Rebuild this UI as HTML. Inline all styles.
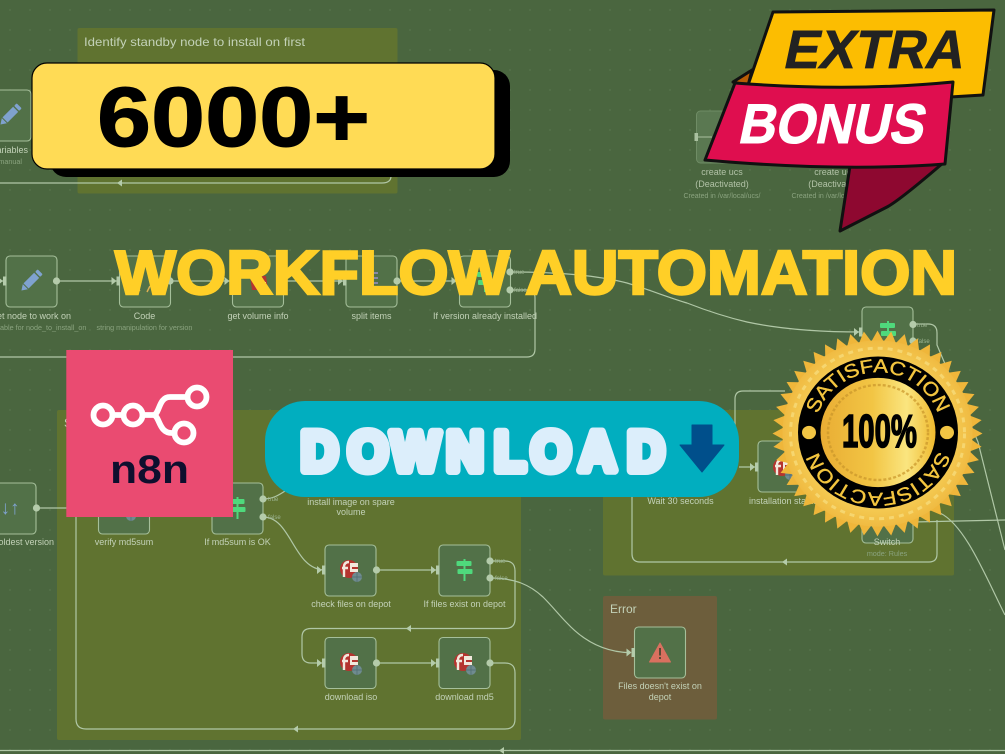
<!DOCTYPE html>
<html lang="en">
<head>
<meta charset="utf-8">
<title>6000+ Workflow Automation</title>
<style>
html,body{margin:0;padding:0;background:#4a663f;width:1005px;height:754px;overflow:hidden}
svg{position:absolute;left:0;top:0;display:block}
text{font-family:"Liberation Sans",sans-serif}
.l{font-size:9px;fill:#c3d2b8;text-anchor:middle}
.s{font-size:7.2px;fill:#8aa37f;text-anchor:middle}
.t{font-size:6px;fill:#9db592}
.c{fill:none;stroke:#b0c7a6;stroke-width:1.2}
.bg{filter:blur(.35px)}
</style>
</head>
<body>
<svg width="1005" height="754" viewBox="0 0 1005 754" xmlns="http://www.w3.org/2000/svg">
<defs>
<pattern id="dots" width="20" height="20" patternUnits="userSpaceOnUse"><circle cx="10" cy="10" r=".7" fill="#5d7952"/></pattern>
<rect id="nb" width="51" height="51" rx="4" fill="#527148" stroke="#a5bf9a" stroke-width="1.1"/>
<g id="in"><path d="M-8 -4 L-3 0 L-8 4Z" fill="#b4cbaa"/><rect x="-3" y="-4.5" width="3.5" height="9" fill="#b4cbaa"/></g>
<circle id="o" r="3.6" fill="#b4cbaa"/>
<path id="ar" d="M-4 0 L1 -3.5 V3.5Z" fill="#b4cbaa"/>
<g id="f5"><circle r="9" fill="#b5342f"/><path d="M-5 8 V-2 Q-5 -7 0 -7 M-7 -1 H-1" fill="none" stroke="#f2e8dc" stroke-width="2.4"/><path d="M1 -6 H9 V-2 H3 V0 H9 V3 H1Z" fill="#f2e8dc"/><circle cx="8" cy="8" r="5" fill="#6f8b90"/><path d="M3 8 H13 M8 3 V13" stroke="#4f6c70" stroke-width=".7"/></g>
<g id="sg" fill="#4fd97c"><rect x="-8" y="-9" width="15" height="5" rx="1"/><rect x="-7" y="-1" width="15" height="5" rx="1"/><rect x="-1" y="-11" width="2" height="22"/></g>
<g id="pen"><g transform="rotate(45)" fill="#7fa2cf"><rect x="-3.6" y="-8" width="7.2" height="15"/><path d="M-3.6 8 L0 13.5 L3.6 8Z"/><rect x="-3.6" y="-13" width="7.2" height="3.6" rx="1"/></g></g>
<polygon id="sp" points="105,0 0,58 -105,0 0,-58" fill="#efb63a"/>
<radialGradient id="gold" cx=".5" cy=".5" r=".55"><stop offset="0" stop-color="#f8d765"/><stop offset=".7" stop-color="#f5cd55"/><stop offset="1" stop-color="#eeb33a"/></radialGradient>
<linearGradient id="gold2" x1="0" y1="0" x2="1" y2="0"><stop offset="0" stop-color="#e9ad34"/><stop offset=".45" stop-color="#f2c544"/><stop offset=".75" stop-color="#fae57f"/><stop offset="1" stop-color="#efb92e"/></linearGradient>
<path id="arcT" d="M-60 -19.5 A63 63 0 0 1 60 -19.5"/>
<path id="arcB" d="M60 19.5 A63 63 0 0 1 -60 19.5"/>
</defs>

<g class="bg">
<rect width="1005" height="754" fill="#4a663f"/>
<rect width="1005" height="754" fill="url(#dots)"/>

<!-- groups -->
<rect x="77.5" y="28" width="320" height="165.5" rx="2" fill="#607330"/>
<rect x="57" y="410" width="464" height="330" rx="2" fill="#607330"/>
<rect x="603" y="410" width="351" height="165.5" rx="2" fill="#607330"/>
<rect x="603" y="596" width="114" height="123.5" rx="2" fill="#6d5e3c"/>
<text x="84" y="46" font-size="12" fill="#c3d2b8" textLength="221" lengthAdjust="spacingAndGlyphs">Identify standby node to install on first</text>
<text x="64" y="427" font-size="12" fill="#c3d2b8">S</text>
<text x="610" y="613" font-size="12" fill="#c3d2b8">Error</text>

<!-- connectors -->
<g class="c">
<path d="M0 183 H382 Q391 183 391 176"/>
<path d="M0 281 H6 M56.5 281 H119 M170 281 H232 M283 281 H346 M397 281 H459"/>
<path d="M510 272 C560 272 600 276 627 283 C650 290 670 298 687 303 C710 312 730 318 747 322 C780 329 820 332 862 332"/>
<path d="M510 290 H527 Q535 290 535 298 V349 Q535 357 527 357 H0"/>
<path d="M913 324 H928 Q937 324 937 333 V345 L978 442 L1005 550"/>
<path d="M913 522 L1005 520"/>
<path d="M940 513 C965 525 985 575 1005 615"/>
<path d="M785 391 H743 Q735 391 735 399 V470"/>
<path d="M632 497 V554 Q632 562 640 562 H929 Q937 562 937 554 V520"/>
<path d="M739 467 H758"/>
<path d="M36.5 508 H70"/>
<path d="M76 517 V719 Q76 729 86 729 H505 Q515 729 515 719 V673 Q515 663 505 663 H490"/>
<path d="M376 570 H439 M376 663 H439"/>
<path d="M263 517 C292 517 293 570 325 570"/>
<path d="M263 499 C272 499 278 496 288 489"/>
<path d="M490 561 H505 Q515 561 515 571 V619 Q515 628.5 505 628.5 H311 Q302 628.5 302 637 V654 Q302 663 311 663 H325"/>
<path d="M490 578 C515 578 530 585 543 597 C552 606 560 616 567 623 C580 637 600 652 630 652.7"/>
<path d="M0 750.5 H1005"/>
</g>
<use href="#ar" x="121" y="183"/>
<use href="#ar" x="786" y="562"/>
<use href="#ar" x="297" y="729"/>
<use href="#ar" x="410" y="628.5"/>
<use href="#ar" x="503" y="750.5"/>

<!-- top-left node -->
<use href="#nb" x="-20" y="90"/>
<use href="#pen" x="10" y="115"/>
<text x="28" y="153" font-size="9" fill="#c3d2b8" text-anchor="end">ariables</text>
<text x="22" y="164" font-size="7.2" fill="#8aa37f" text-anchor="end">manual</text>

<!-- row 2 -->
<use href="#nb" x="6" y="256"/><use href="#pen" x="31" y="281"/><use href="#o" x="56.5" y="281"/><use href="#in" x="6" y="281"/>
<use href="#nb" x="119.5" y="256"/><use href="#o" x="170" y="281"/><use href="#in" x="119.5" y="281"/>
<path d="M137 288 L140 291 M150 286 L147 292" stroke="#e0b050" stroke-width="1.5"/>
<use href="#nb" x="232.5" y="256"/><use href="#o" x="283" y="281"/><use href="#in" x="232.5" y="281"/>
<path d="M250 276 L266 276 L268 290 L252 290Z" fill="#b5342f"/><rect x="256" y="282" width="10" height="6" fill="#d9d9d0"/>
<use href="#nb" x="346" y="256"/><use href="#o" x="397" y="281"/><use href="#in" x="346" y="281"/>
<path d="M366 273 H378 M366 278 H378 M366 283 H378 M366 288 H378" stroke="#9a8fc7" stroke-width="1.5"/>
<use href="#nb" x="459.5" y="256"/><use href="#in" x="459.5" y="281"/><use href="#o" x="510" y="272"/><use href="#o" x="510" y="290"/>
<use href="#sg" x="485" y="281"/>
<text class="t" x="514" y="274">true</text><text class="t" x="514" y="292">false</text>
<text class="l" x="31" y="319">Set node to work on</text>
<text class="s" x="31" y="330">Set variable for node_to_install_on</text>
<text class="l" x="144.5" y="319">Code</text>
<text class="s" x="144.5" y="330">string manipulation for version</text>
<text class="l" x="258" y="319">get volume info</text>
<text class="l" x="371.5" y="319">split items</text>
<text class="l" x="485" y="319">If version already installed</text>

<!-- deactivated nodes -->
<rect x="696.5" y="111" width="51" height="52" rx="4" fill="#5a7851" stroke="#6f8c65" stroke-width="1"/>
<rect x="805" y="111" width="51" height="52" rx="4" fill="#5a7851" stroke="#6f8c65" stroke-width="1"/>
<rect x="694.5" y="133" width="3.5" height="8" fill="#a9c09f"/>
<path d="M698 137 H712" stroke="#a9c09f" stroke-width="1"/>
<text class="l" x="722" y="175" opacity=".85">create ucs</text>
<text class="l" x="722" y="187" opacity=".85">(Deactivated)</text>
<text class="s" x="722" y="198" style="font-size:7px">Created in /var/local/ucs/</text>
<text class="l" x="835" y="175" opacity=".85">create ucs</text>
<text class="l" x="835" y="187" opacity=".85">(Deactivated)</text>
<text class="s" x="830" y="198" style="font-size:7px">Created in /var/local/ucs/</text>

<!-- right side -->
<use href="#nb" x="862" y="307"/><use href="#sg" x="888" y="332"/><use href="#in" x="862" y="332"/><use href="#o" x="913" y="324.5"/><use href="#o" x="913" y="341"/>
<text class="t" x="917" y="327">true</text><text class="t" x="917" y="343">false</text>
<use href="#nb" x="758" y="441"/><use href="#f5" x="782" y="467"/><use href="#in" x="758" y="467"/>
<use href="#nb" x="862" y="492"/>
<text class="l" x="680.5" y="504">Wait 30 seconds</text>
<text class="l" x="783.5" y="504">installation status</text>
<text class="l" x="887" y="545">Switch</text>
<text class="s" x="887" y="556">mode: Rules</text>

<!-- main group nodes -->
<use href="#nb" x="-15" y="483"/><use href="#o" x="36.5" y="508"/>
<text x="10" y="514" font-size="19" fill="#7fa2cf" text-anchor="middle">↓↑</text>
<text x="54" y="545" font-size="9" fill="#c3d2b8" text-anchor="end">oldest version</text>
<use href="#nb" x="98.5" y="483"/><use href="#f5" x="123" y="508"/>
<text class="l" x="124" y="545">verify md5sum</text>
<use href="#nb" x="212" y="483"/><use href="#sg" x="237.5" y="508"/><use href="#o" x="263" y="499"/><use href="#o" x="263" y="517"/>
<text class="t" x="268" y="501">true</text><text class="t" x="268" y="519">false</text>
<text class="l" x="237.5" y="545">If md5sum is OK</text>
<text class="l" x="351" y="505">install image on spare</text>
<text class="l" x="351" y="515">volume</text>

<use href="#nb" x="325" y="545"/><use href="#f5" x="349" y="569"/><use href="#in" x="325" y="570"/><use href="#o" x="376.5" y="570"/>
<text class="l" x="351" y="607">check files on depot</text>
<use href="#nb" x="439" y="545"/><use href="#sg" x="464.5" y="570"/><use href="#in" x="439" y="570"/><use href="#o" x="490" y="561"/><use href="#o" x="490" y="578"/>
<text class="t" x="495" y="563">true</text><text class="t" x="495" y="580">false</text>
<text class="l" x="464.5" y="607">If files exist on depot</text>
<use href="#nb" x="325" y="637.5"/><use href="#f5" x="349" y="662"/><use href="#in" x="325" y="663"/><use href="#o" x="376.5" y="663"/>
<text class="l" x="351" y="700">download iso</text>
<use href="#nb" x="439" y="637.5"/><use href="#f5" x="463" y="662"/><use href="#in" x="439" y="663"/><use href="#o" x="490" y="663"/>
<text class="l" x="464.5" y="700">download md5</text>

<!-- error node -->
<use href="#nb" x="634.5" y="627"/><use href="#in" x="634.5" y="652.5"/>
<path d="M660 643 L670.5 662 H649.5Z" fill="#d9705f" stroke="#d9705f" stroke-width="1" stroke-linejoin="round"/>
<rect x="659" y="648" width="2" height="7.5" fill="#5a4a36"/><rect x="659" y="657" width="2" height="2" fill="#5a4a36"/>
<text class="l" x="660" y="689">Files doesn't exist on</text>
<text class="l" x="660" y="700">depot</text>
</g>

<!-- yellow 6000+ -->
<rect x="50" y="70" width="460" height="107" rx="16" fill="#000"/>
<rect x="32" y="63" width="463" height="106" rx="15" fill="#ffdb55" stroke="#000" stroke-width="1.2"/>
<text x="97" y="146" font-size="84" font-weight="700" fill="#000" stroke="#000" stroke-width="1" textLength="273" lengthAdjust="spacingAndGlyphs">6000+</text>

<!-- headline -->
<text x="115" y="294" font-size="62" font-weight="700" fill="#ffcf27" stroke="#ffcf27" stroke-width="2.5" textLength="842" lengthAdjust="spacingAndGlyphs">WORKFLOW AUTOMATION</text>

<!-- n8n -->
<rect x="66.3" y="350" width="166.7" height="167" fill="#ea4b71"/>
<g fill="none" stroke="#fff" stroke-width="5.8">
<path d="M112 415 H124 M142.5 415 H153 C160 415 158 397 170 397 H187 M153 415 C160 415 158 433 172 433 H175"/>
<circle cx="103" cy="415" r="9.5"/><circle cx="133" cy="415" r="9.5"/><circle cx="197" cy="397" r="9.5"/><circle cx="184" cy="433" r="9.5"/>
</g>
<text x="110" y="483" font-size="40" font-weight="700" fill="#0e0f2e" textLength="79" lengthAdjust="spacingAndGlyphs">n8n</text>

<!-- download -->
<rect x="265" y="401" width="474" height="96" rx="40" fill="#01aebf"/>
<text transform="scale(.92 1)" y="470.5" x="347.3 400 451.6 505.4 554.3 598.9 649.5 702.2" font-size="56" font-weight="700" text-anchor="middle" fill="#dceefb" stroke="#dceefb" stroke-width="9" stroke-linejoin="round">DOWNLOAD</text>
<path d="M692 425 H712 V445 H724 L702 472 L680 445 H692Z" fill="#004f8b" stroke="#004f8b" stroke-width="1" stroke-linejoin="round"/>

<!-- badge -->
<g stroke="#111" stroke-width="3" stroke-linejoin="round">
<path d="M733 82 L752 70 L748 86Z" fill="#b85c05"/>
<path d="M773 12 L994 10 L983 95 L950 97 L748 85Z" fill="#fcbd01"/>
<path d="M850 166 L943 163 Q900 200 887 207 L840 231Z" fill="#8e0830"/>
<path d="M735 83 Q850 92 953 82 L945 164 Q840 172 705 160Z" fill="#df0e4f"/>
</g>
<text transform="translate(782 68) skewX(-12)" x="0" y="0" font-size="54" font-weight="700" fill="#222" stroke="#222" stroke-width=".8" textLength="180" lengthAdjust="spacingAndGlyphs">EXTRA</text>
<text transform="translate(737 143) skewX(-12)" x="0" y="0" font-size="56" font-weight="700" fill="#fff" stroke="#fff" stroke-width="1" textLength="185" lengthAdjust="spacingAndGlyphs">BONUS</text>

<!-- seal -->
<g transform="translate(877.5 433.5) scale(1 .98)">
<use href="#sp"/><use href="#sp" transform="rotate(7.5)"/><use href="#sp" transform="rotate(15)"/><use href="#sp" transform="rotate(22.5)"/><use href="#sp" transform="rotate(30)"/><use href="#sp" transform="rotate(37.5)"/><use href="#sp" transform="rotate(45)"/><use href="#sp" transform="rotate(52.5)"/><use href="#sp" transform="rotate(60)"/><use href="#sp" transform="rotate(67.5)"/><use href="#sp" transform="rotate(75)"/><use href="#sp" transform="rotate(82.5)"/><use href="#sp" transform="rotate(90)"/><use href="#sp" transform="rotate(97.5)"/><use href="#sp" transform="rotate(105)"/><use href="#sp" transform="rotate(112.5)"/><use href="#sp" transform="rotate(120)"/><use href="#sp" transform="rotate(127.5)"/><use href="#sp" transform="rotate(135)"/><use href="#sp" transform="rotate(142.5)"/><use href="#sp" transform="rotate(150)"/><use href="#sp" transform="rotate(157.5)"/><use href="#sp" transform="rotate(165)"/><use href="#sp" transform="rotate(172.5)"/>
<circle r="95" fill="url(#gold)"/>
<circle r="87" fill="none" stroke="#f8de80" stroke-width="3" stroke-dasharray="5 5" opacity=".7"/>
</g>
<g transform="translate(878 432.5) scale(1 .95)">
<circle r="80" fill="#000"/>
<circle r="57.5" fill="url(#gold2)"/>
<circle r="50" fill="none" stroke="#c9962b" stroke-width="2.5" stroke-dasharray="3 2" opacity=".7"/>
<circle cx="-69" cy="0" r="7" fill="#f2c544"/><circle cx="69" cy="0" r="7" fill="#f2c544"/>
<text font-size="20" fill="#f3c53f" stroke="#f3c53f" stroke-width=".4"><textPath href="#arcT" textLength="158" lengthAdjust="spacingAndGlyphs">SATISFACTION</textPath></text>
<text font-size="20" fill="#f3c53f" stroke="#f3c53f" stroke-width=".4"><textPath href="#arcB" textLength="158" lengthAdjust="spacingAndGlyphs">SATISFACTION</textPath></text>
</g>
<text x="842" y="447" font-size="46" font-weight="700" fill="#000" stroke="#000" stroke-width="1.6" textLength="75" lengthAdjust="spacingAndGlyphs">100%</text>
</svg>
</body>
</html>
